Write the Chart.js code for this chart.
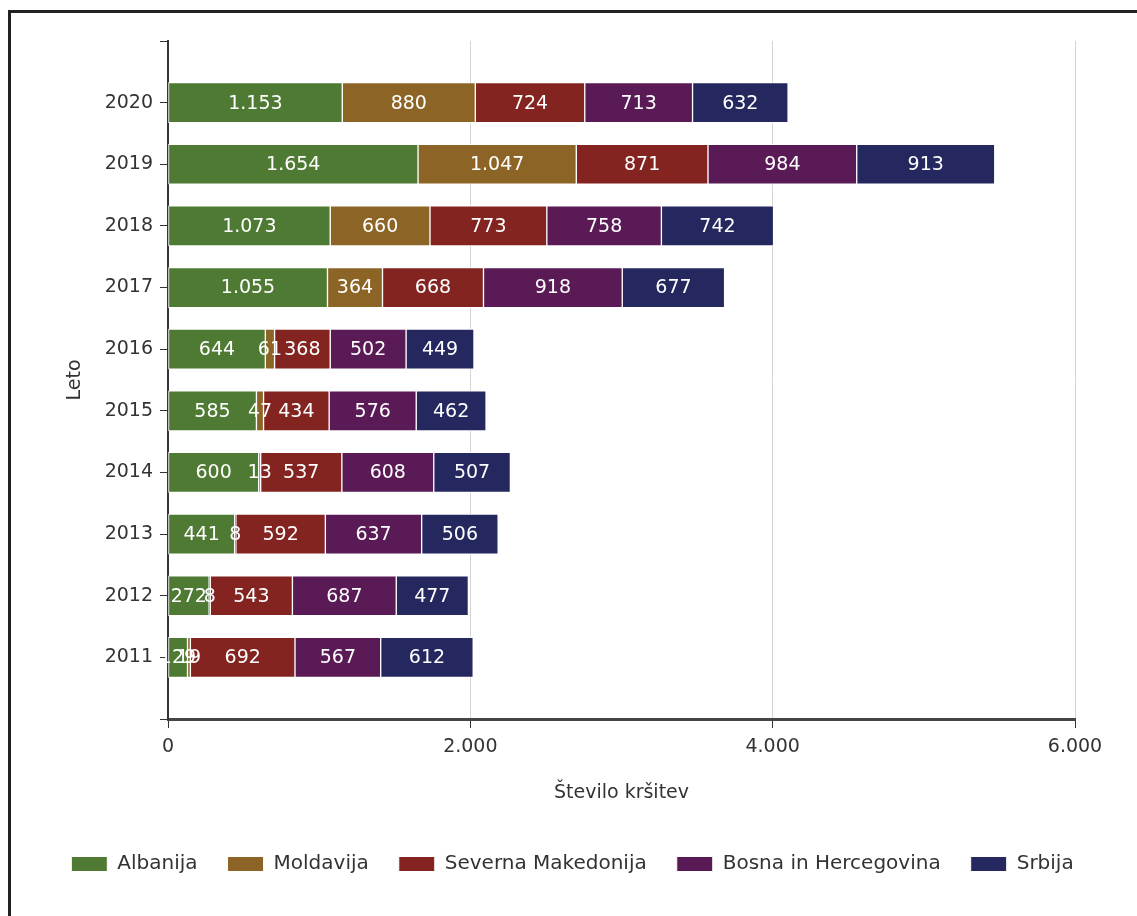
<!DOCTYPE html>
<html>
<head>
<meta charset="utf-8">
<script src="https://cdn.jsdelivr.net/npm/chart.js@4.4.0/dist/chart.umd.min.js"></script>
<style>
  html, body { margin: 0; padding: 0; background: #fff; }
  #wrap { position: relative; width: 1137px; height: 916px; }
  #frame { position: absolute; left: 8px; top: 10px; right: 0; bottom: 0;
           border-left: 3px solid #222; border-top: 3px solid #222; }
  canvas { position: absolute; left: 0; top: 0; }
</style>
</head>
<body>
<div id="wrap">
  <div id="frame"></div>
  <canvas id="myChart" width="1137" height="916"></canvas>
</div>
<script>
// Podatki (leta od zgoraj navzdol)
const years = ['2020', '2019', '2018', '2017', '2016', '2015', '2014', '2013', '2012', '2011'];
const albanija = [1153, 1654, 1073, 1055, 644, 585, 600, 441, 272, 129];
const moldavija = [880, 1047, 660, 364, 61, 47, 13, 8, 8, 19];
const makedonija = [724, 871, 773, 668, 368, 434, 537, 592, 543, 692];
const bosna = [713, 984, 758, 918, 502, 576, 608, 637, 687, 567];
const srbija = [632, 913, 742, 677, 449, 462, 507, 506, 477, 612];
const xTicks = [0, 2000, 4000, 6000];

// prazna mesta zgoraj in spodaj, da je os daljša kot stolpci
const labels = [''].concat(years, ['']);
const pad = arr => [null].concat(arr, [null]);

function fmt(v) {
    return String(v).replace(/\B(?=(\d{3})+(?!\d))/g, '.');
}

Chart.defaults.font.family = "'DejaVu Sans', Verdana, sans-serif";
Chart.defaults.font.size = 19;
Chart.defaults.color = '#333';

// napisi vrednosti na sredini stolpcev
const barLabels = {
    id: 'barLabels',
    afterLayout(chart) {
        // legenda je v originalu malo bolj desno
        chart.legend.left += 35;
        chart.legend.right += 35;
    },
    afterDatasetsDraw(chart) {
        const ctx = chart.ctx;
        ctx.save();
        ctx.font = "19px 'DejaVu Sans', Verdana, sans-serif";
        ctx.fillStyle = '#fff';
        ctx.textAlign = 'center';
        ctx.textBaseline = 'middle';
        chart.data.datasets.forEach((ds, i) => {
            chart.getDatasetMeta(i).data.forEach((bar, j) => {
                const v = ds.data[j];
                if (v === null) return;
                const p = bar.getProps(['x', 'y', 'base'], true);
                ctx.fillText(fmt(v), (p.x + p.base) / 2, p.y + 1);
            });
        });
        ctx.restore();
    }
};

const ds = (label, data, color) => ({
    label: label,
    data: pad(data),
    backgroundColor: color,
    borderColor: '#ffffff',
    borderWidth: 1,
    borderSkipped: false,
    barThickness: 40
});

new Chart(document.getElementById('myChart').getContext('2d'), {
    type: 'bar',
    data: {
        labels: labels,
        datasets: [
            ds('Albanija', albanija, '#4f7a33'),
            ds('Moldavija', moldavija, '#8c6526'),
            ds('Severna Makedonija', makedonija, '#832421'),
            ds('Bosna in Hercegovina', bosna, '#591a55'),
            ds('Srbija', srbija, '#25275f')
        ]
    },
    options: {
        indexAxis: 'y',
        responsive: false,
        animation: false,
        layout: { padding: { top: 41, left: 0, right: 62, bottom: 32 } },
        plugins: {
            legend: {
                position: 'bottom',
                labels: { boxWidth: 36, boxHeight: 15, padding: 30, color: '#333', font: { size: 20 } }
            },
            tooltip: { enabled: false }
        },
        scales: {
            x: {
                stacked: true,
                min: 0,
                max: 6000,
                afterBuildTicks: s => { s.ticks = xTicks.map(v => ({ value: v })); },
                ticks: { callback: v => fmt(v), padding: 8, maxRotation: 0 },
                grid: { color: '#d4d4d4', tickColor: '#333', tickLength: 9 },
                border: { color: '#444', width: 3 },
                title: { display: true, text: 'Število kršitev', padding: { top: 4, bottom: 20 } },
                afterFit: s => { s.height = 105; }
            },
            y: {
                stacked: true,
                offset: false,
                ticks: { padding: 7, autoSkip: false },
                grid: { offset: false, drawOnChartArea: false, tickColor: '#333', tickLength: 8 },
                border: { color: '#333', width: 2 },
                title: { display: true, text: 'Leto', padding: { top: 64, bottom: 4 } },
                afterFit: s => { s.width = 168; }
            }
        }
    },
    plugins: [barLabels]
});
</script>
</body>
</html>
